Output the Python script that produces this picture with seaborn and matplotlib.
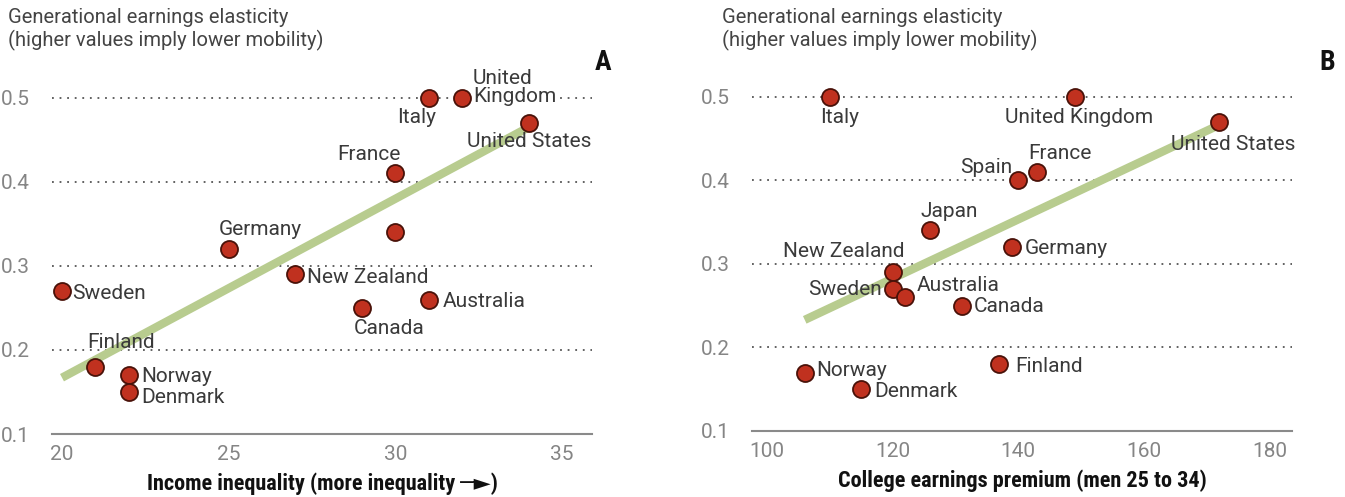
import matplotlib
matplotlib.use("Agg")
import matplotlib.pyplot as plt
import seaborn as sns
import pandas as pd

# ---------------- data ----------------
# Panel A: income inequality vs generational earnings elasticity
a_countries = ["Sweden", "Finland", "Norway", "Denmark", "Germany", "New Zealand",
               "Canada", "Australia", "", "France", "Italy", "United\nKingdom", "United States"]
a_inequality = [20, 21, 22, 22, 25, 27, 29, 31, 30, 30, 31, 32, 34]
a_elasticity = [0.27, 0.18, 0.17, 0.15, 0.32, 0.29, 0.25, 0.26, 0.34, 0.41, 0.50, 0.50, 0.47]
a_trend_x = [20, 34]
a_trend_y = [0.167, 0.465]

# Panel B: college earnings premium vs generational earnings elasticity
b_countries = ["Italy", "United Kingdom", "United States", "Spain", "France", "Japan",
               "Germany", "New Zealand", "Sweden", "Australia", "Canada",
               "Norway", "Denmark", "Finland"]
b_premium = [110, 149, 172, 140, 143, 126, 139, 120, 120, 122, 131, 106, 115, 137]
b_elasticity = [0.50, 0.50, 0.47, 0.40, 0.41, 0.34, 0.32, 0.29, 0.27, 0.26, 0.25,
                0.17, 0.15, 0.18]
b_trend_x = [106, 172.5]
b_trend_y = [0.233, 0.468]

y_ticks = [0.1, 0.2, 0.3, 0.4, 0.5]
a_xticks = [20, 25, 30, 35]
b_xticks = [100, 120, 140, 160, 180]

# ---------------- label placement (offset pixels, ha, va) ----------------
a_label_pos = {
    "Sweden": (10, -2, "left", "center"),
    "Finland": (-8, 24, "left", "center"),
    "Norway": (13, -1, "left", "center"),
    "Denmark": (13, -6, "left", "center"),
    "Germany": (-10, 20, "left", "center"),
    "New Zealand": (12, -3, "left", "center"),
    "Canada": (-8, -21, "left", "center"),
    "Australia": (14, -2, "left", "center"),
    "France": (5, 19, "right", "center"),
    "Italy": (7, -20, "right", "center"),
    "United\nKingdom": (11, 10, "left", "center"),
    "United States": (1, -18, "center", "center"),
}
b_label_pos = {
    "Italy": (10, -21, "center", "center"),
    "United Kingdom": (4, -21, "center", "center"),
    "United States": (14, -23, "center", "center"),
    "Spain": (-6, 13, "right", "center"),
    "France": (-9, 18, "left", "center"),
    "Japan": (-10, 19, "left", "center"),
    "Germany": (13, -1, "left", "center"),
    "New Zealand": (12, 21, "right", "center"),
    "Sweden": (-11, -1, "right", "center"),
    "Australia": (11, 12, "left", "center"),
    "Canada": (12, -1, "left", "center"),
    "Norway": (12, 2, "left", "center"),
    "Denmark": (13, -2, "left", "center"),
    "Finland": (16, -2, "left", "center"),
}

# ---------------- style ----------------
sns.set_theme(style="white")
FAM = ["Roboto", "DejaVu Sans"]
FAM_BOLD = ["Roboto Condensed", "Liberation Sans Narrow", "DejaVu Sans"]
plt.rcParams["font.family"] = FAM

POINT = "#c0311f"
EDGE = "#4a1209"
TREND = "#b8cc8f"
TICKC = "#8a8a8a"
TICKLAB = "#858585"
TEXTC = "#3a3a3a"

fig = plt.figure(figsize=(13.45, 4.97), dpi=100)
W, H = 1345, 497


def px_axes(left, right, bottom_px, top_px):
    return fig.add_axes([left / W, 1 - bottom_px / H, (right - left) / W,
                         (bottom_px - top_px) / H])


def draw_panel(ax, xs, ys, names, tx, ty, xlim, xticks, xlabel, label_pos):
    df = pd.DataFrame({"x": xs, "y": ys, "name": names})
    ax.set_xlim(*xlim)
    ax.set_ylim(0.1, 0.52)
    for yv in y_ticks[1:]:
        ax.axhline(yv, color="#555555", lw=1.3, ls=(0, (1, 3.2)), zorder=1)
    sns.lineplot(x=tx, y=ty, ax=ax, color=TREND, lw=6, zorder=2,
                 solid_capstyle="butt")
    sns.scatterplot(data=df, x="x", y="y", ax=ax, s=150, color=POINT,
                    edgecolor=EDGE, linewidth=1.3, zorder=3, legend=False)
    for _, r in df.iterrows():
        if r["name"] in label_pos:
            dx, dy, ha, va = label_pos[r["name"]]
            kw = {}
            if "Kingdom" in r["name"] and "\n" in r["name"]:
                kw["bbox"] = dict(facecolor="white", edgecolor="none", pad=0.5)
            ax.annotate(r["name"], (r["x"], r["y"]), xytext=(dx, dy),
                        textcoords="offset pixels", ha=ha, va=va,
                        fontsize=15, color=TEXTC, zorder=4,
                        linespacing=0.95, **kw)
    for s in ["top", "right", "left"]:
        ax.spines[s].set_visible(False)
    ax.spines["bottom"].set_color(TICKC)
    ax.spines["bottom"].set_linewidth(1.5)
    ax.set_xticks(xticks)
    ax.set_yticks(y_ticks)
    ax.set_yticklabels([f"{v:.1f}" for v in y_ticks])
    ax.tick_params(axis="x", colors=TICKC, labelcolor=TICKLAB, direction="out",
                   length=5, width=1.3, labelsize=15, pad=3)
    ax.tick_params(axis="y", left=False, labelcolor=TICKLAB, labelsize=15, pad=10)
    ax.set_xlabel(xlabel, fontsize=16, fontweight="bold", color="#111111",
                  labelpad=6, family=FAM_BOLD)
    ax.set_ylabel("")
    ax.set_facecolor("none")


axA = px_axes(52, 592, 434, 81)
draw_panel(axA, a_inequality, a_elasticity, a_countries, a_trend_x, a_trend_y,
           (19.7, 35.9), a_xticks, "Income inequality (more inequality \u2500\u25ba)",
           a_label_pos)

axB = px_axes(752, 1292, 431, 80)
draw_panel(axB, b_premium, b_elasticity, b_countries, b_trend_x, b_trend_y,
           (97.6, 183.6), b_xticks, "College earnings premium (men 25 to 34)",
           b_label_pos)

title = "Generational earnings elasticity\n(higher values imply lower mobility)"
fig.text(8 / W, 1 - 8 / H, title, ha="left", va="top", fontsize=14.5,
         color="#444444", linespacing=1.15)
fig.text(722 / W, 1 - 8 / H, title, ha="left", va="top", fontsize=14.5,
         color="#444444", linespacing=1.15)
fig.text(603 / W, 1 - 62 / H, "A", ha="center", va="center", fontsize=20,
         fontweight="bold", color="#111111", family=FAM_BOLD)
fig.text(1327 / W, 1 - 62 / H, "B", ha="center", va="center", fontsize=20,
         fontweight="bold", color="#111111", family=FAM_BOLD)

fig.savefig("out.png", dpi=100, facecolor="white")
